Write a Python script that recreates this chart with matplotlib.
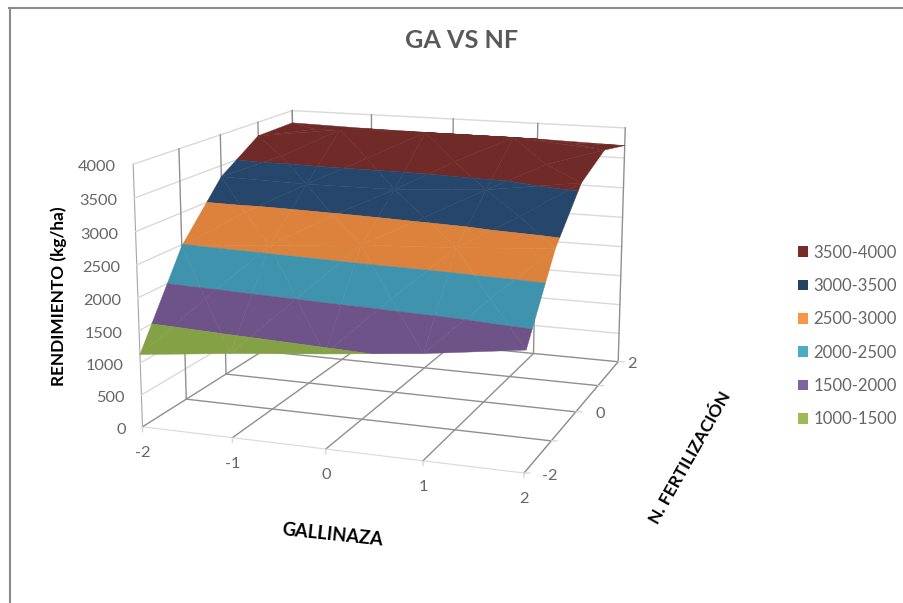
import numpy as np
import matplotlib
matplotlib.use('Agg')
import matplotlib.pyplot as plt
from matplotlib.lines import Line2D
from matplotlib.patches import Patch
from mpl_toolkits.mplot3d import proj3d
from mpl_toolkits.mplot3d.art3d import Poly3DCollection

plt.rcParams['font.family'] = ['Lato', 'DejaVu Sans']

# Data
gallinaza = [-2, -1, 0, 1, 2]
fertilizacion = [-2, -1, 0, 1, 2]
rendimiento = [
    [1130, 1290, 1430, 1580, 1777],
    [2480, 2600, 2720, 2790, 2890],
    [3320, 3290, 3300, 3390, 3590],
    [3769, 3950, 3980, 3980, 3860],
    [3784, 3753, 3743, 3736, 3707],
]
z_ticks = [0, 500, 1000, 1500, 2000, 2500, 3000, 3500, 4000]
x_ticklabels = ['-2', '-1', '0', '1', '2']
y_ticklabels = ['-2', '', '0', '', '2']
band_labels = ['3500-4000', '3000-3500', '2500-3000', '2000-2500', '1500-2000', '1000-1500']
band_low = [3500, 3000, 2500, 2000, 1500, 1000]
band_high = [4000, 3500, 3000, 2500, 2000, 1500]
surface_colors = ['#6f2a28', '#26466a', '#da813c', '#3f92ab', '#6c5287', '#84a045']
legend_colors = ['#772c2a', '#254061', '#f79646', '#4bacc6', '#8064a2', '#9bbb59']

GRID_DARK = '#8f8f8f'
GRID_LIGHT = '#d9d9d9'
TEXT_GREY = '#666666'


def clip_z(poly, limit, keep_above):
    # cut a flat polygon at one height
    out = []
    for i in range(len(poly)):
        a, b = poly[i], poly[(i + 1) % len(poly)]
        a_in = a[2] >= limit if keep_above else a[2] <= limit
        b_in = b[2] >= limit if keep_above else b[2] <= limit
        if a_in:
            out.append(a)
        if a_in != b_in:
            t = (limit - a[2]) / (b[2] - a[2])
            out.append(a + t * (b - a))
    return out


def shade(hex_color, factor):
    rgb = np.array(matplotlib.colors.to_rgb(hex_color)) * factor
    return tuple(np.clip(rgb, 0, 1))


fig = plt.figure(figsize=(9.04, 6.03), dpi=100)
ax = fig.add_axes([101.75 / 904, 39.4 / 603, 570.38 / 904, 570.38 / 603],
                  projection='3d', computed_zorder=False)
ax.set_facecolor('none')
ax.set_xlim(-2, 2)
ax.set_ylim(-2, 2)
ax.set_zlim(0, 4000)
ax.set_box_aspect((1.487, 1.4607, 1))
ax.set_proj_type('persp', focal_length=0.5651)
ax.view_init(13.346, -70.033, 0.029)
ax.grid(False)

for axis in (ax.xaxis, ax.yaxis, ax.zaxis):
    axis.set_pane_color((1, 1, 1, 0))
    axis.pane.set_edgecolor((1, 1, 1, 0))
    axis._axinfo['tick']['inward_factor'] = 0
    axis._axinfo['tick']['outward_factor'] = 0

ax.set_xticks(gallinaza, labels=[''] * len(gallinaza))
ax.set_yticks(fertilizacion, labels=[''] * len(fertilizacion))
ax.set_zticks(z_ticks, labels=[''] * len(z_ticks))
ax.zaxis.set_ticks_position('lower')
ax.xaxis.line.set_color(GRID_LIGHT)
ax.yaxis.line.set_color(GRID_LIGHT)
ax.zaxis.line.set_color('#a6a6a6')

# walls and floor
for xv in gallinaza:
    ax.plot([xv, xv], [-2, 2], [0, 0], color=GRID_DARK, lw=1, zorder=1)
    ax.plot([xv, xv], [2, 2], [0, 4000], color=GRID_DARK, lw=1, zorder=1)
for yv in fertilizacion:
    if yv > -2:
        ax.plot([-2, 2], [yv, yv], [0, 0], color=GRID_DARK, lw=1, zorder=1)
        ax.plot([-2, -2], [yv, yv], [0, 4000], color=GRID_DARK, lw=1, zorder=1)
for zv in z_ticks[1:]:
    ax.plot([-2, -2, 2], [-2, 2, 2], [zv, zv, zv], color=GRID_LIGHT, lw=1, zorder=0.5)

# surface, one flat piece per colour band and facet
X, Y = np.meshgrid(gallinaza, fertilizacion)
Z = np.array(rendimiento, float)
light = np.array([0.25, -0.5, 0.83])
for low, high, col in zip(band_low, band_high, surface_colors):
    polys, faces = [], []
    for j in range(len(fertilizacion) - 1):
        for i in range(len(gallinaza) - 1):
            corners = np.array([
                [X[j, i], Y[j, i], Z[j, i]],
                [X[j, i + 1], Y[j, i + 1], Z[j, i + 1]],
                [X[j + 1, i + 1], Y[j + 1, i + 1], Z[j + 1, i + 1]],
                [X[j + 1, i], Y[j + 1, i], Z[j + 1, i]],
            ])
            centre = corners.mean(axis=0)
            for k in range(4):
                tri = [corners[k], corners[(k + 1) % 4], centre]
                scaled = np.array(tri) * [1, 1, 1 / 1400]
                normal = np.cross(scaled[1] - scaled[0], scaled[2] - scaled[0])
                normal = normal / np.linalg.norm(normal)
                factor = 1 + 0.05 * (normal @ light - 0.8)
                piece = clip_z(clip_z(tri, low, True), high, False)
                if len(piece) >= 3:
                    polys.append(np.array(piece))
                    faces.append(shade(col, factor))
    surf = Poly3DCollection(polys, facecolors=faces, edgecolors=faces, linewidths=0.3, zorder=5)
    ax.add_collection3d(surf, autolim=False)


def tick_label(text, x, y, z, dx, dy, ha='center', tick=None):
    # label and short tick, placed in pixels from the projected point
    px, py, _ = proj3d.proj_transform(x, y, z, ax.get_proj())
    if tick is not None:
        ax.annotate('', xy=(px, py), xytext=tick, textcoords='offset pixels',
                    arrowprops=dict(arrowstyle='-', color=GRID_LIGHT, lw=1, shrinkA=0, shrinkB=0))
    if text:
        ax.annotate(text, xy=(px, py), xytext=(dx, dy), textcoords='offset pixels',
                    ha=ha, va='center', fontsize=11.8, color=TEXT_GREY)


for xv, lab in zip(gallinaza, x_ticklabels):
    tick_label(lab, xv, -2, 0, 0, -26, tick=(0, -5))
for yv, lab, dx in zip(fertilizacion, y_ticklabels, [26, 0, 24, 0, 14]):
    tick_label(lab, 2, yv, 0, dx, -2.5, tick=(6, 0))
for zv in z_ticks:
    tick_label(str(zv), -2, -2, zv, -17, -3, ha='right')

# chart frame
fig.add_artist(Line2D([10 / 904, 10 / 904], [0, 595 / 603], color='#8c8c8c', lw=1.5))
fig.add_artist(Line2D([9.3 / 904, 1], [595 / 603, 595 / 603], color='#8c8c8c', lw=1.5))

fig.text(462 / 904, 1 - 41 / 603, 'GA VS NF', fontsize=18.2, fontweight='bold', color='#595959',
         ha='center', va='center')
fig.text(59 / 904, 1 - 296 / 603, 'RENDIMIENTO (kg/ha)', fontsize=12.4, fontweight='bold', color='black',
         rotation=90, ha='center', va='center')
fig.text(332 / 904, 1 - 535 / 603, 'GALLINAZA', fontsize=13.2, fontweight='bold', color='black',
         rotation=-6, ha='center', va='center', rotation_mode='anchor')
fig.text(690 / 904, 1 - 458 / 603, 'N. FERTILIZACIÓN', fontsize=12.5, fontweight='bold', color='black',
         rotation=60.5, ha='center', va='center', rotation_mode='anchor')

handles = [Patch(facecolor=c, edgecolor='none') for c in legend_colors]
fig.legend(handles, band_labels, loc='center left', bbox_to_anchor=(798 / 904, 1 - 336 / 603),
           frameon=False, fontsize=12.1, labelcolor=TEXT_GREY, handlelength=0.6, handleheight=0.6,
           labelspacing=1.03, handletextpad=0.32, borderpad=0, borderaxespad=0)

fig.savefig('out.png', dpi=100)
